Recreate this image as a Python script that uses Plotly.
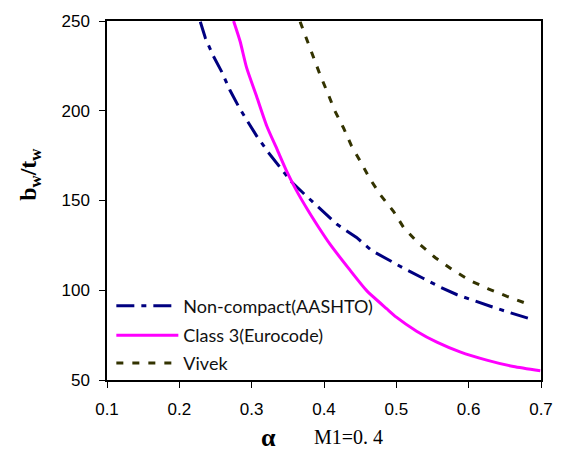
import plotly.graph_objects as go

# ---- data ----
alpha_aashto = [0.229, 0.236, 0.247, 0.259, 0.270, 0.282, 0.293, 0.307, 0.323, 0.337,
                0.355, 0.374, 0.395, 0.418, 0.445, 0.466, 0.489, 0.513, 0.537, 0.561,
                0.584, 0.609, 0.632, 0.657, 0.683]
bw_aashto = [249.6, 240.5, 230.5, 221.4, 211.4, 202.3, 195.0, 185.9, 176.8, 169.5,
             160.4, 153.1, 145.3, 136.7, 129.4, 122.1, 117.0, 111.6, 106.7, 101.7,
             97.5, 93.9, 90.8, 87.5, 84.3]

alpha_euro = [0.275, 0.284, 0.293, 0.307, 0.321, 0.335, 0.349, 0.362, 0.378, 0.393,
              0.408, 0.436, 0.459, 0.487, 0.500, 0.528, 0.556, 0.588, 0.625, 0.662, 0.699]
bw_euro = [250.0, 238.7, 224.0, 207.8, 191.4, 178.6, 165.8, 155.5, 144.4, 134.8,
           125.8, 111.2, 99.8, 89.6, 85.0, 77.2, 71.1, 65.7, 61.1, 57.5, 55.1]

alpha_vivek = [0.367, 0.376, 0.385, 0.395, 0.405, 0.415, 0.427, 0.438, 0.451, 0.463,
               0.478, 0.496, 0.510, 0.530, 0.554, 0.577, 0.602, 0.627, 0.653, 0.680]
bw_vivek = [249.6, 239.6, 229.6, 219.6, 210.0, 199.9, 190.4, 180.4, 171.3, 162.4,
            153.1, 144.0, 135.0, 126.4, 118.1, 111.6, 105.4, 100.8, 96.6, 92.6]

x_ticks = [0.1, 0.2, 0.3, 0.4, 0.5, 0.6, 0.7]
x_tick_labels = ["0.1", "0.2", "0.3", "0.4", "0.5", "0.6", "0.7"]
y_ticks = [50, 100, 150, 200, 250]
y_tick_labels = ["50", "100", "150", "200", "250"]

names = ["Non-compact(AASHTO)", "Class 3(Eurocode)", "Vivek"]

fig = go.Figure()
fig.add_trace(go.Scatter(x=alpha_aashto, y=bw_aashto, mode="lines", name=names[0],
                         line=dict(color="#000080", width=3, dash="18px,7px,5px,7px"),
                         legend="legend"))
fig.add_trace(go.Scatter(x=alpha_euro, y=bw_euro, mode="lines", name=names[1],
                         line=dict(color="#FF00FF", width=3, shape="spline", smoothing=0.6),
                         legend="legend2"))
fig.add_trace(go.Scatter(x=alpha_vivek, y=bw_vivek, mode="lines", name=names[2],
                         line=dict(color="#333300", width=3, dash="7px,9px"),
                         legend="legend3"))

W, H = 565, 463
l, r, t, b = 107, 24, 16, 83
pw, ph = W - l - r, H - t - b

legend_common = dict(xanchor="left", yanchor="middle", bgcolor="rgba(0,0,0,0)",
                     font=dict(family="Lato", size=18, color="#111111"),
                     itemwidth=62, tracegroupgap=0, visible=True)
fig.update_layout(
    width=W, height=H,
    showlegend=True,
    margin=dict(l=l, r=r, t=t, b=b),
    paper_bgcolor="white", plot_bgcolor="white",
    legend=dict(x=0.01, y=(H - b - 305) / ph, **legend_common),
    legend2=dict(x=0.01, y=(H - b - 335) / ph, **legend_common),
    legend3=dict(x=0.01, y=(H - b - 363) / ph, **legend_common),
    xaxis=dict(range=[0.1, 0.7], tickvals=x_ticks, ticktext=x_tick_labels,
               showline=True, linecolor="black", linewidth=1.5, mirror=True,
               ticks="outside", ticklen=6, tickcolor="black", showgrid=False,
               zeroline=False, ticklabelstandoff=7,
               tickfont=dict(family="Liberation Sans", size=17, color="black")),
    yaxis=dict(range=[50, 250], tickvals=y_ticks, ticktext=y_tick_labels,
               showline=True, linecolor="black", linewidth=1.5, mirror=True,
               ticks="outside", ticklen=6, tickcolor="black", showgrid=False,
               zeroline=False, ticklabelstandoff=6,
               tickfont=dict(family="Liberation Sans", size=17, color="black")),
)

# annotations given in pixel positions, converted to paper coordinates
ann_specs = [
    ("<b>b<sub>w</sub>/t<sub>w</sub></b>", 30, 172, -90, "Liberation Serif", 24),
    ("<b>α</b>", 268, 438, 0, "Liberation Serif", 26),
    ("M1=0. 4", 348, 438, 0, "Liberation Serif", 20),
]
for text, px, py, ang, fam, size in ann_specs:
    fig.add_annotation(text=text, xref="paper", yref="paper",
                       x=(px - l) / pw, y=(H - b - py) / ph,
                       xanchor="center", yanchor="middle", showarrow=False,
                       textangle=ang, font=dict(family=fam, size=size, color="black"))

fig.write_html("out.html")
